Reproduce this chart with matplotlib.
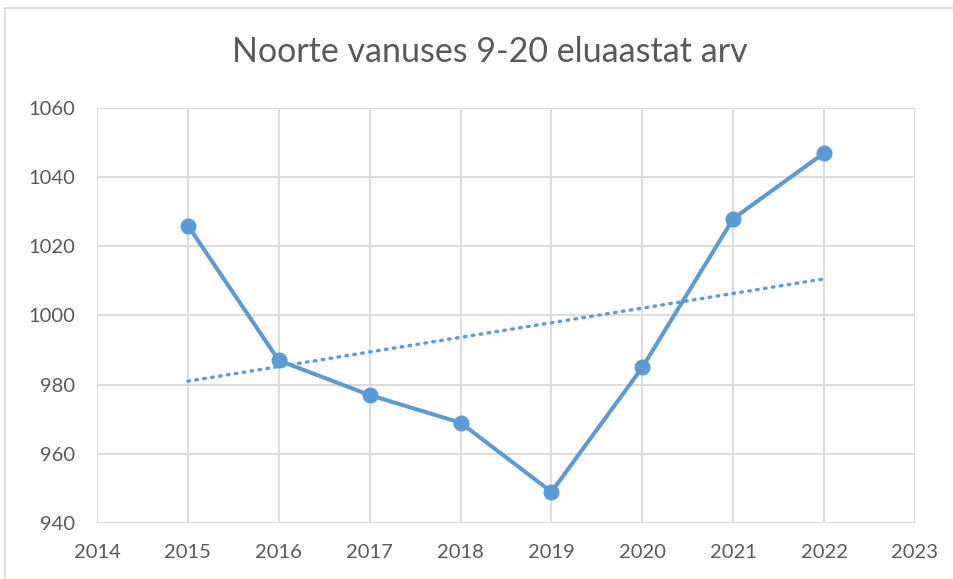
import matplotlib.pyplot as plt
from matplotlib.lines import Line2D

years = [2015, 2016, 2017, 2018, 2019, 2020, 2021, 2022]
values = [1026, 987, 977, 969, 949, 985, 1028, 1047]
trend_years = [2015, 2022]
trend_values = [981, 1010.6]

title = 'Noorte vanuses 9-20 eluaastat arv'
blue = '#5b9bd5'
grid_c = '#d9d9d9'
text_c = '#595959'

plt.rcParams['font.family'] = ['Lato', 'DejaVu Sans']

fig = plt.figure(figsize=(9.54, 5.79), dpi=100)
ax = fig.add_axes([97 / 954, 1 - 523 / 579, (915 - 97) / 954, (523 - 108) / 579])

ax.plot(years, values, color=blue, lw=2.9, marker='o', ms=10.5, zorder=3)
ax.plot(trend_years, trend_values, color=blue, lw=2.4, ls=(0, (0.5, 1.9)),
        dash_capstyle='round', zorder=2)

ax.set_xlim(2014, 2023)
ax.set_ylim(940, 1060)
ax.set_xticks(range(2014, 2024))
ax.set_yticks(range(940, 1061, 20))
ax.grid(True, color=grid_c, lw=1.3)
ax.set_axisbelow(True)
for s in ax.spines.values():
    s.set_visible(False)
ax.tick_params(length=0, labelsize=14.5, labelcolor=text_c)
ax.tick_params(axis='y', pad=16)
ax.tick_params(axis='x', pad=15)

fig.text(490 / 954, 1 - 52 / 579, title, ha='center', va='center',
         fontsize=24.5, color=text_c)

# chart border
fig.add_artist(Line2D([5 / 954, 5 / 954], [0, 1 - 8 / 579], color=grid_c, lw=1.2,
                      transform=fig.transFigure))
fig.add_artist(Line2D([5 / 954, 1], [1 - 8 / 579, 1 - 8 / 579], color=grid_c, lw=1.2,
                      transform=fig.transFigure))

fig.savefig('out.png', dpi=100)
